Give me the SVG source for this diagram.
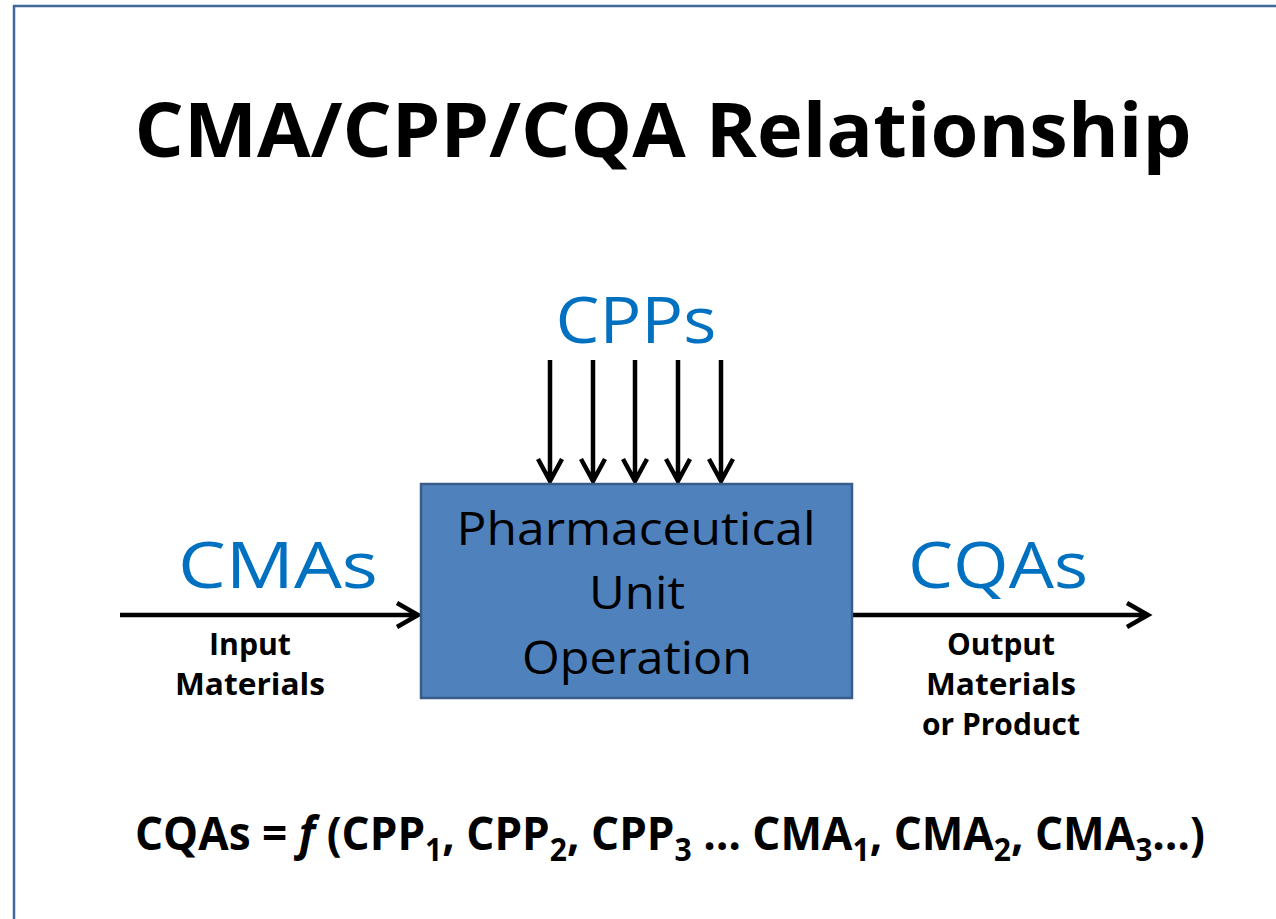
<svg xmlns="http://www.w3.org/2000/svg" width="1276" height="919" viewBox="0 0 1276 919">
<style>
.t{font-family:"Open Sans","Liberation Sans",sans-serif}
.b{font-weight:bold;fill:#000}
.blue{fill:#0070c0}
.arr{stroke:#000;stroke-width:4.5;fill:none}
</style>
<rect x="0" y="0" width="1276" height="919" fill="#fff"/>
<rect x="14" y="6" width="1280" height="930" fill="none" stroke="#41689b" stroke-width="2.5"/>
<text id="title" class="t b" x="663" y="157" font-size="76" text-anchor="middle" textLength="1057" lengthAdjust="spacingAndGlyphs">CMA/CPP/CQA Relationship</text>
<g id="connectors">
<g class="arr">
<path d="M550 360V481M538 459L550 481L562 459"/>
<path d="M593 360V481M581 459L593 481L605 459"/>
<path d="M635 360V481M623 459L635 481L647 459"/>
<path d="M678 360V481M666 459L678 481L690 459"/>
<path d="M721 360V481M709 459L721 481L733 459"/>
<path d="M120 615H418M397 603L418 615L397 627"/>
<path d="M852 615H1148M1127 603L1148 615L1127 627"/>
</g>
</g>
<g id="unit-operation">
<rect x="421" y="484" width="431" height="214" fill="#4f81bd" stroke="#385d8a" stroke-width="2.5"/>
<text class="t" x="636" y="545" font-size="45" text-anchor="middle" textLength="359" lengthAdjust="spacingAndGlyphs" fill="#000">Pharmaceutical</text>
<text class="t" x="637" y="609" font-size="45" text-anchor="middle" textLength="96" lengthAdjust="spacingAndGlyphs" fill="#000">Unit</text>
<text class="t" x="637" y="674" font-size="45" text-anchor="middle" textLength="230" lengthAdjust="spacingAndGlyphs" fill="#000">Operation</text>
</g>
<g id="cpps"><text class="t blue" x="636" y="343" font-size="64" text-anchor="middle" textLength="161" lengthAdjust="spacingAndGlyphs">CPPs</text></g>
<g id="cmas">
<text class="t blue" x="278" y="588" font-size="64" text-anchor="middle" textLength="200" lengthAdjust="spacingAndGlyphs">CMAs</text>
<text class="t b" x="250" y="655" font-size="30" text-anchor="middle" textLength="82" lengthAdjust="spacingAndGlyphs">Input</text>
<text class="t b" x="250" y="695" font-size="30" text-anchor="middle" textLength="150" lengthAdjust="spacingAndGlyphs">Materials</text>
</g>
<g id="cqas">
<text class="t blue" x="998" y="588" font-size="64" text-anchor="middle" textLength="180" lengthAdjust="spacingAndGlyphs">CQAs</text>
<text class="t b" x="1001" y="655" font-size="30" text-anchor="middle" textLength="108" lengthAdjust="spacingAndGlyphs">Output</text>
<text class="t b" x="1001" y="695" font-size="30" text-anchor="middle" textLength="150" lengthAdjust="spacingAndGlyphs">Materials</text>
<text class="t b" x="1001" y="735" font-size="30" text-anchor="middle" textLength="158" lengthAdjust="spacingAndGlyphs">or Product</text>
</g>
<g id="formula">
<text class="t b" x="135" y="850" font-size="47" textLength="1070" lengthAdjust="spacingAndGlyphs">CQAs = <tspan font-style="italic">f</tspan> (CPP<tspan font-size="32" dy="11">1</tspan><tspan dy="-11">, CPP</tspan><tspan font-size="32" dy="11">2</tspan><tspan dy="-11">, CPP</tspan><tspan font-size="32" dy="11">3</tspan><tspan dy="-11"> … CMA</tspan><tspan font-size="32" dy="11">1</tspan><tspan dy="-11">, CMA</tspan><tspan font-size="32" dy="11">2</tspan><tspan dy="-11">, CMA</tspan><tspan font-size="32" dy="11">3</tspan><tspan dy="-11">…)</tspan></text>
</g>
</svg>
